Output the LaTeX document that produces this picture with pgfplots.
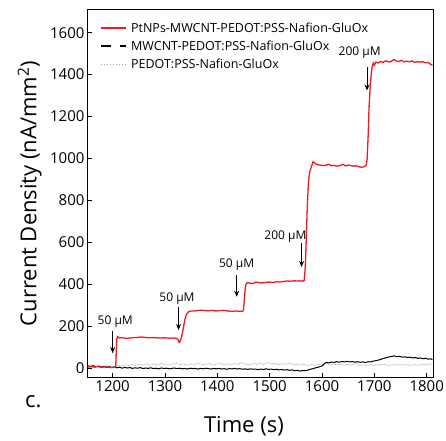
\documentclass[border=0pt]{standalone}
\usepackage{pgfplots}
\pgfplotsset{compat=1.18}
\usepackage{fontspec}
\setmainfont{Open Sans}
\usetikzlibrary{arrows.meta}
\definecolor{myred}{RGB}{237,28,36}
\begin{document}
\begin{tikzpicture}
\begin{axis}[
  scale only axis, width=345pt, height=367pt,
  xmin=1153, xmax=1812, ymin=-43, ymax=1708,
  xtick={1200,1300,...,1800}, ytick={0,200,...,1600},
  scaled ticks=false,
  /pgf/number format/assume math mode=true,
  /pgf/number format/1000 sep={},
  tick label style={font=\fontsize{15}{18}\selectfont},
  xtick pos=bottom, ytick pos=left, tick align=inside,
  major tick length=4pt,
  axis line style={line width=1pt},
  every tick/.style={black, line width=0.8pt},
  xlabel={Time (s)}, ylabel={Current Density (nA/mm\textsuperscript{2})},
  label style={font=\fontsize{22}{26}\selectfont},
  xlabel style={at={(axis description cs:0.452,-0.15)}, anchor=base},
  ylabel style={at={(axis description cs:-0.134,0.5)}, anchor=south, inner sep=0pt},
  clip mode=individual,
  legend image code/.code={\draw[#1] (0pt,0pt) -- (25pt,0pt);},
  legend style={at={(axis description cs:0.027,0.977)}, anchor=north west, draw=none, fill=none,
     font=\fontsize{12.5}{15}\selectfont, row sep=3pt,
     nodes={inner xsep=4pt}},
  legend cell align=left,
]
\addlegendimage{myred, line width=1.6pt}
\addlegendentry{PtNPs-MWCNT-PEDOT:PSS-Nafion-GluOx}
\addlegendimage{black, line width=1.6pt, dash pattern=on 10pt off 9pt}
\addlegendentry{MWCNT-PEDOT:PSS-Nafion-GluOx}
\addlegendimage{gray!70, line width=1pt, dotted}
\addlegendentry{PEDOT:PSS-Nafion-GluOx}

\addplot[gray!60, line width=0.8pt, dash pattern=on 1pt off 0.8pt, forget plot] coordinates {
(1153,6)(1160,9)(1167,4)(1174,10)(1181,7)(1188,12)(1195,8)(1202,5)(1209,13)(1216,9)
(1223,15)(1230,11)(1237,17)(1244,12)(1251,18)(1258,14)(1265,20)(1272,13)(1279,19)(1286,15)
(1293,22)(1300,16)(1307,14)(1314,20)(1321,25)(1328,15)(1335,19)(1342,13)(1349,20)(1356,16)
(1363,22)(1370,15)(1377,18)(1384,21)(1391,14)(1398,19)(1405,23)(1412,16)(1419,20)(1426,15)
(1433,21)(1440,17)(1447,26)(1454,18)(1461,14)(1468,21)(1475,17)(1482,24)(1489,16)(1496,28)
(1503,18)(1510,22)(1517,15)(1524,20)(1531,17)(1538,23)(1545,16)(1552,19)(1559,14)(1566,18)
(1573,12)(1580,16)(1587,13)(1594,17)(1601,15)(1608,28)(1615,14)(1622,18)(1629,15)(1636,19)
(1643,13)(1650,17)(1657,14)(1664,27)(1671,10)(1678,15)(1685,12)(1692,16)(1699,13)(1706,18)
(1713,14)(1720,17)(1727,12)(1734,16)(1741,13)(1748,18)(1755,14)(1762,17)(1769,12)(1776,16)
(1783,13)(1790,19)(1797,14)(1804,18)(1811,20)
};

\addplot[black, line width=1pt, forget plot] coordinates {
(1153,10)(1158,8)(1163,11)(1168,6)(1173,9)(1178,4)(1183,7)(1188,3)(1193,6)(1198,2)
(1203,5)(1208,1)(1213,4)(1218,-1)(1223,3)(1228,0)(1233,2)(1238,-2)(1243,1)(1248,-1)
(1253,2)(1258,-3)(1263,0)(1268,-2)(1273,1)(1278,-3)(1283,-1)(1288,-4)(1293,0)(1298,-2)
(1303,-1)(1308,-4)(1313,-2)(1318,0)(1323,-3)(1328,-1)(1333,-4)(1338,-2)(1343,-5)(1348,-1)
(1353,-3)(1358,-2)(1363,-5)(1368,-2)(1373,-4)(1378,-1)(1383,-3)(1388,-5)(1393,-2)(1398,-4)
(1403,-2)(1408,-5)(1413,-3)(1418,-6)(1423,-3)(1428,-4)(1433,-2)(1438,-5)(1443,-3)(1448,-6)
(1453,-4)(1458,-7)(1463,-4)(1468,-6)(1473,-5)(1478,-8)(1483,-5)(1488,-7)(1493,-4)(1498,-7)
(1503,-5)(1508,-8)(1513,-6)(1518,-9)(1523,-7)(1528,-10)(1533,-8)(1538,-11)(1543,-9)(1548,-13)
(1553,-11)(1558,-15)(1563,-12)(1568,-13)(1573,-10)(1578,-6)(1583,-3)(1588,1)(1593,4)(1598,8)
(1602,12)(1605,22)(1608,26)(1613,24)(1618,28)(1623,27)(1628,30)(1633,28)(1638,31)(1643,29)
(1648,32)(1653,29)(1658,31)(1663,28)(1668,30)(1673,27)(1678,29)(1683,26)(1688,30)(1693,29)
(1698,33)(1703,35)(1708,38)(1713,42)(1718,46)(1723,49)(1728,53)(1733,55)(1738,58)(1743,54)
(1748,56)(1753,52)(1758,53)(1763,50)(1768,52)(1773,48)(1778,50)(1783,46)(1788,48)(1793,44)
(1798,46)(1803,42)(1808,44)(1811,40)
};

\addplot[myred, line width=1.3pt, forget plot] coordinates {
(1153,5)(1155,5)(1160,6)(1165,4)(1170,7)(1175,5)(1180,3)(1185,6)(1190,4)(1195,2)(1200,3)(1204,2)(1206,5)
(1207,80)(1208,140)(1210,150)(1213,143)(1218,145)(1225,141)(1232,143)(1240,145)(1248,146)(1255,148)
(1262,146)(1270,144)(1278,145)(1285,144)(1292,143)(1300,144)(1308,142)(1315,143)(1322,142)
(1325,135)(1327,122)(1329,128)(1332,150)(1335,190)(1338,230)(1341,255)(1345,268)(1350,272)
(1356,272)(1362,274)(1368,276)(1375,274)(1382,273)(1390,275)(1398,272)(1405,274)(1412,275)
(1420,272)(1428,270)(1435,272)(1442,270)(1448,271)(1450,275)(1452,340)(1454,395)(1457,408)
(1462,405)(1468,403)(1474,410)(1480,407)(1487,406)(1494,409)(1500,410)(1507,408)(1514,412)
(1520,410)(1527,413)(1534,415)(1540,414)(1547,416)(1553,415)(1558,416)(1563,414)(1566,418)
(1568,480)(1570,620)(1572,780)(1574,880)(1576,930)(1579,955)(1583,985)(1587,975)(1592,970)
(1597,968)(1602,966)(1608,968)(1613,972)(1618,965)(1623,966)(1628,963)(1634,965)(1640,972)
(1645,964)(1650,968)(1655,966)(1660,963)(1665,965)(1670,960)(1675,958)(1680,960)(1684,966)
(1686,990)(1688,1100)(1690,1250)(1692,1340)(1694,1400)(1696,1440)(1698,1455)(1700,1445)
(1703,1460)(1707,1455)(1712,1462)(1717,1458)(1722,1466)(1727,1460)(1732,1462)(1737,1472)
(1742,1465)(1747,1462)(1752,1468)(1757,1460)(1762,1464)(1767,1461)(1772,1465)(1777,1458)
(1782,1462)(1787,1459)(1792,1462)(1797,1456)(1802,1458)(1807,1450)(1811,1444)
};

\begin{scope}[-{Stealth[length=6pt,width=5pt]}, line width=0.8pt, black]
\draw (axis cs:1200,175) -- (axis cs:1200,71);
\draw (axis cs:1326,290) -- (axis cs:1326,181);
\draw (axis cs:1437,443) -- (axis cs:1437,340);
\draw (axis cs:1561,595) -- (axis cs:1561,482);
\draw (axis cs:1686,1435) -- (axis cs:1686,1324);
\end{scope}
\begin{scope}[every node/.style={font=\fontsize{12}{14}\selectfont, inner sep=0pt}]
\node at (axis cs:1205,222) {50 µM};
\node at (axis cs:1323,329) {50 µM};
\node at (axis cs:1437,495) {50 µM};
\node at (axis cs:1530,625) {200 µM};
\node at (axis cs:1672,1505) {200 µM};
\end{scope}
\node[anchor=base west, inner sep=0pt, font=\fontsize{22}{26}\selectfont] at (axis description cs:-0.183,-0.082) {c.};
\end{axis}
\pgfresetboundingbox
\path ([shift={(-88pt,-63pt)}]current axis.south west) rectangle ([shift={(13pt,10pt)}]current axis.north east);
\end{tikzpicture}
\end{document}
